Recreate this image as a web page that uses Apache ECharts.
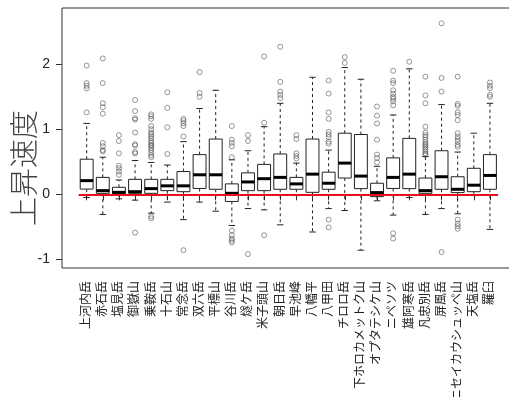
<!DOCTYPE html>
<html>
<head>
<meta charset="utf-8">
<script src="https://cdn.jsdelivr.net/npm/echarts@6/dist/echarts.min.js"></script>
<style>html,body{margin:0;padding:0;background:#fff;}#c{width:509px;height:397px;}</style>
</head>
<body>
<div id="c"></div>
<script>
const categories = ['上河内岳','赤石岳','塩見岳','御嶽山','乗鞍岳','十石山','常念岳','双六岳','平標山','谷川岳','燧ケ岳','米子頭山','朝日岳','早池峰','八幡平','八甲田','チロロ岳','下ホロカメットク山','オプタテシケ山','ニペソツ','雄阿寒岳','凡忠別岳','屏風岳','ニセイカウシュッペ山','天塩岳','羅臼'];
const lowWhisker  = [-0.05,-0.31,-0.07,-0.09,-0.29,-0.12,-0.39,-0.12,-0.26,-0.48,-0.22,-0.24,-0.47,-0.02,-0.58,-0.22,-0.25,-0.86,-0.10,-0.32,-0.05,-0.31,-0.22,-0.30,-0.02,-0.54];
const q1          = [0.08,0.015,0.005,0.015,0.015,0.056,0.04,0.09,0.077,-0.11,0.056,0.056,0.077,0.077,0.03,0.077,0.25,0.087,-0.036,0.09,0.087,0.015,0.077,0.026,0.04,0.077];
const median      = [0.21,0.056,0.03,0.04,0.087,0.13,0.13,0.30,0.30,0.015,0.19,0.24,0.26,0.16,0.31,0.17,0.48,0.28,0.026,0.26,0.31,0.056,0.27,0.077,0.14,0.29];
const q3          = [0.54,0.26,0.108,0.23,0.23,0.23,0.35,0.61,0.85,0.16,0.33,0.46,0.62,0.26,0.85,0.34,0.94,0.92,0.17,0.56,0.86,0.25,0.67,0.27,0.40,0.61];
const highWhisker = [1.09,0.57,0.22,0.52,0.49,0.45,0.81,1.32,1.60,0.53,0.67,1.04,1.40,0.48,1.80,0.68,1.95,1.77,0.43,1.22,1.93,0.58,1.38,0.65,0.94,1.40];
const outliers = [
  [1.98,1.71,1.67,1.63,1.26],
  [2.09,1.71,1.40,1.34,1.24,0.79,0.74,0.68,0.66],
  [0.91,0.82,0.63,0.44,0.40,0.35,0.30],
  [1.45,1.28,1.17,1.15,0.95,0.77,0.75,0.65,0.63,-0.59],
  [1.23,1.20,1.16,1.05,1.00,0.95,0.92,0.89,0.86,0.82,0.79,0.76,0.74,0.71,0.68,0.64,0.60,0.57,-0.34,-0.37],
  [1.57,1.33,1.03,0.62],
  [1.16,1.13,1.09,1.05,0.89,-0.86],
  [1.88,1.56,1.50],
  [],
  [1.05,0.84,0.79,0.74,0.57,-0.56,-0.63,-0.68,-0.71,-0.74],
  [0.91,0.82,-0.92],
  [2.12,1.10,-0.63],
  [2.27,1.73,1.58,1.53,1.48],
  [0.91,0.85,0.63,0.59,0.55],
  [],
  [1.75,1.55,1.26,1.16,0.96,0.92,0.88,0.81,0.78,-0.39,-0.51],
  [2.11,2.02],
  [],
  [1.35,1.21,1.09,0.84,0.61,0.56,0.49],
  [1.90,1.75,1.71,1.60,1.55,1.50,1.47,1.43,1.37,-0.60,-0.68],
  [2.04],
  [1.81,1.52,1.40,1.04,0.95,0.91,0.88,0.84,0.80,0.77,0.75,0.72,0.69,0.66,0.63,0.61],
  [2.63,1.79,1.58,-0.89],
  [1.81,1.39,1.36,1.26,1.22,1.14,0.94,0.89,0.85,0.81,0.76,0.73,-0.39,-0.45,-0.49,-0.53],
  [],
  [1.72,1.67,1.63,1.53,1.50]
];
const yTicks = [-1, 0, 1, 2];
const yTitle = '上昇速度';

const boxData = categories.map((c, i) => [i, lowWhisker[i], q1[i], median[i], q3[i], highWhisker[i]]);
const outData = [];
outliers.forEach((arr, i) => arr.forEach(v => outData.push([i, v])));

const YMIN = -1.134, YMAX = 2.866;
const FONT = "'Liberation Sans', 'Noto Sans CJK JP', sans-serif";
const ink = '#222';

const chart = echarts.init(document.getElementById('c'), null, {renderer: 'canvas'});
chart.setOption({
  animation: false,
  backgroundColor: '#fff',
  grid: [
    {left: 62, top: 8, width: 453, height: 260, show: true, borderColor: '#333', borderWidth: 1, backgroundColor: 'transparent', containLabel: false, outerBoundsMode: 'none'},
    {left: 78.6, top: 8, width: 419.4, height: 260, containLabel: false, outerBoundsMode: 'none'}
  ],
  xAxis: [
    {gridIndex: 0, type: 'value', show: false, min: 0, max: 1},
    {gridIndex: 1, type: 'category', data: categories,
     axisLine: {show: false},
     axisTick: {show: true, alignWithLabel: true, interval: 0, length: 6, lineStyle: {color: '#333'}},
     axisLabel: {interval: 0, rotate: 90, margin: 13, fontSize: 12, color: ink, fontFamily: FONT, hideOverlap: false},
     splitLine: {show: false}}
  ],
  yAxis: [
    {gridIndex: 0, type: 'value', min: YMIN, max: YMAX,
     axisLine: {show: false},
     axisTick: {show: true, length: 6, customValues: yTicks, lineStyle: {color: '#333'}},
     axisLabel: {customValues: yTicks, fontSize: 14, margin: 12, color: ink, fontFamily: FONT},
     splitLine: {show: false}},
    {gridIndex: 1, type: 'value', min: YMIN, max: YMAX, show: false, splitLine: {show: false}}
  ],
  graphic: [{
    type: 'text', left: 9, top: 110, rotation: Math.PI / 2,
    style: {text: yTitle, fontSize: 29, fill: '#444', fontFamily: "'Noto Sans CJK JP', sans-serif", fontWeight: 300}
  }],
  series: [
    {
      type: 'custom', xAxisIndex: 1, yAxisIndex: 1, data: boxData, z: 2,
      encode: {x: 0, y: [1, 2, 3, 4, 5]},
      renderItem: function (params, api) {
        const x = api.value(0);
        const lo = api.coord([x, api.value(1)]);
        const b = api.coord([x, api.value(2)]);
        const m = api.coord([x, api.value(3)]);
        const t = api.coord([x, api.value(4)]);
        const hi = api.coord([x, api.value(5)]);
        const bw = api.size([1, 0])[0];
        const half = bw * 0.4, cap = bw * 0.2;
        const cx = t[0];
        const dash = {stroke: ink, lineWidth: 1, lineDash: [3, 3]};
        const solid = {stroke: ink, lineWidth: 1};
        return {type: 'group', children: [
          {type: 'line', shape: {x1: cx, y1: t[1], x2: cx, y2: hi[1]}, style: dash},
          {type: 'line', shape: {x1: cx, y1: b[1], x2: cx, y2: lo[1]}, style: dash},
          {type: 'line', shape: {x1: cx - cap, y1: hi[1], x2: cx + cap, y2: hi[1]}, style: solid},
          {type: 'line', shape: {x1: cx - cap, y1: lo[1], x2: cx + cap, y2: lo[1]}, style: solid},
          {type: 'rect', shape: {x: cx - half, y: t[1], width: half * 2, height: b[1] - t[1]}, style: {fill: '#fff', stroke: ink, lineWidth: 1}},
          {type: 'line', shape: {x1: cx - half, y1: m[1], x2: cx + half, y2: m[1]}, style: {stroke: '#000', lineWidth: 3}}
        ]};
      }
    },
    {
      type: 'scatter', xAxisIndex: 1, yAxisIndex: 1, data: outData, z: 3,
      symbol: 'circle', symbolSize: 5,
      itemStyle: {color: 'rgba(255,255,255,0)', borderColor: '#444', borderWidth: 0.7},
      markLine: {
        silent: true, symbol: 'none', z: 5,
        label: {show: false},
        lineStyle: {color: '#e8101a', width: 2, type: 'solid'},
        data: [{yAxis: 0}]
      }
    }
  ]
});
</script>
</body>
</html>
